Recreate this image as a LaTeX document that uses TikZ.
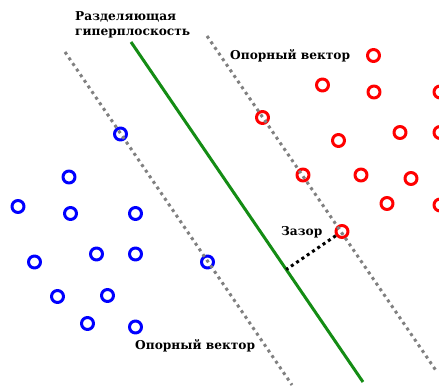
\documentclass[tikz,border=0pt]{standalone}
\usepackage{fontspec}
\setmainfont{DejaVu Serif}
\usetikzlibrary{calc}
\definecolor{hypgreen}{RGB}{20,140,20}
\tikzset{
	bpt/.style={circle, draw=blue, line width=3pt, minimum size=12pt, inner sep=0pt},
	rpt/.style={circle, draw=red, line width=3pt, minimum size=12pt, inner sep=0pt},
	margin/.style={gray, line width=3pt, dash pattern=on 3pt off 3.8pt},
	lbl/.style={font=\bfseries\fontsize{12.2}{14.5}\selectfont, inner sep=0pt, anchor=west}
}
\begin{document}
\begin{tikzpicture}[x=1pt, y=-1pt, line join = round]
	\useasboundingbox (0,0) rectangle (439,387);
	\coordinate (g1) at (131,42);
	\coordinate (g2) at (363,382);
	\coordinate (l1) at (65,52);
	\coordinate (l2) at (292,385);
	\coordinate (u1) at (207,36);
	\coordinate (u2) at (437,372);
	% blue class
	\node[bpt] (b1) at (120.5,134) {};
	\node[bpt] (b2) at (69,177) {};
	\node[bpt] (b3) at (18,206.5) {};
	\node[bpt] (b4) at (70.5,213.5) {};
	\node[bpt] (b5) at (135.5,213.5) {};
	\node[bpt] (b6) at (34.5,262) {};
	\node[bpt] (b7) at (96.5,254) {};
	\node[bpt] (b8) at (135.5,254) {};
	\node[bpt] (b9) at (207.5,262) {};
	\node[bpt] (b10) at (57.5,296.5) {};
	\node[bpt] (b11) at (107.5,295.5) {};
	\node[bpt] (b12) at (87.5,323.5) {};
	\node[bpt] (b13) at (135.5,327) {};
	% red class
	\node[rpt] (r1) at (373.5,55.5) {};
	\node[rpt] (r2) at (322.5,85) {};
	\node[rpt] (r3) at (374,92) {};
	\node[rpt] (r4) at (440,92) {};
	\node[rpt] (r5) at (262.5,117.5) {};
	\node[rpt] (r6) at (400,132.5) {};
	\node[rpt] (r7) at (440,132.5) {};
	\node[rpt] (r8) at (338.5,140.5) {};
	\node[rpt] (r9) at (303,175) {};
	\node[rpt] (r10) at (361,175) {};
	\node[rpt] (r11) at (411,178.5) {};
	\node[rpt] (r12) at (387,203.5) {};
	\node[rpt] (r13) at (440,205) {};
	\node[rpt] (r14) at (342,231.5) {};
	% lines
	\draw[margin] (l1) -- (l2);
	\draw[margin] (u1) -- (u2);
	\draw[hypgreen, line width=3pt] (g1) -- (g2);
	\coordinate (foot) at ($(g1)!(r14)!(g2)$);
	\draw[black, line width=3pt, dash pattern=on 3pt off 3.4pt] (r14) -- (foot);
	% labels
	\node[lbl, align=left] (hyp) at (75,25) {Разделяющая\\гиперплоскость};
	\node[lbl] (svtop) at (230,55.5) {Опорный вектор};
	\node[lbl] (svbot) at (135,346) {Опорный вектор};
	\node[lbl] (gap) at (281,232) {Зазор};
\end{tikzpicture}
\end{document}
